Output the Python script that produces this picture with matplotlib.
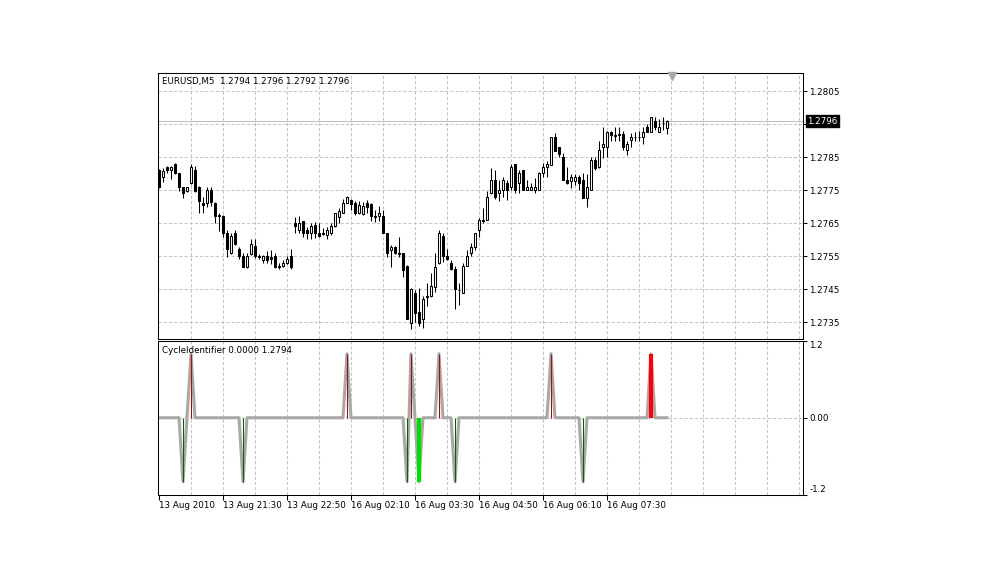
import numpy as np
import matplotlib
matplotlib.use('Agg')
from matplotlib import pyplot as plt
from matplotlib import transforms

plt.rcParams['font.family'] = 'DejaVu Sans'
plt.rcParams['font.size'] = 6.3

# EURUSD M5 candles
opens = [
    1.27812, 1.27791, 1.27821, 1.27812, 1.27830, 1.27803, 1.27761, 1.27748, 1.27773, 1.27812,
    1.27761, 1.27712, 1.27712, 1.27752, 1.27712, 1.27676, 1.27673, 1.27621, 1.27561, 1.27621,
    1.27573, 1.27552, 1.27518, 1.27558, 1.27582, 1.27550, 1.27539, 1.27552, 1.27548, 1.27552,
    1.27521, 1.27521, 1.27530, 1.27552, 1.27652, 1.27630, 1.27657, 1.27630, 1.27621, 1.27645,
    1.27621, 1.27621, 1.27615, 1.27621, 1.27642, 1.27670, 1.27682, 1.27712, 1.27721, 1.27712,
    1.27682, 1.27679, 1.27712, 1.27709, 1.27673, 1.27673, 1.27673, 1.27621, 1.27570, 1.27579,
    1.27561, 1.27561, 1.27521, 1.27348, 1.27440, 1.27382, 1.27361, 1.27430, 1.27430, 1.27457,
    1.27530, 1.27612, 1.27552, 1.27530, 1.27512, 1.27449, 1.27440, 1.27521, 1.27561, 1.27579,
    1.27630, 1.27661, 1.27661, 1.27742, 1.27782, 1.27742, 1.27752, 1.27773, 1.27761, 1.27830,
    1.27773, 1.27812, 1.27752, 1.27752, 1.27752, 1.27752, 1.27803, 1.27821, 1.27827, 1.27912,
    1.27882, 1.27851, 1.27782, 1.27779, 1.27779, 1.27791, 1.27782, 1.27727, 1.27752, 1.27842,
    1.27821, 1.27882, 1.27882, 1.27927, 1.27918, 1.27921, 1.27921, 1.27873, 1.27903, 1.27912,
    1.27912, 1.27912, 1.27943, 1.27927, 1.27961, 1.27927, 1.27955, 1.27940]
highs = [
    1.27815, 1.27818, 1.27824, 1.27824, 1.27833, 1.27803, 1.27761, 1.27761, 1.27830, 1.27824,
    1.27764, 1.27730, 1.27761, 1.27761, 1.27715, 1.27682, 1.27676, 1.27630, 1.27621, 1.27630,
    1.27579, 1.27561, 1.27561, 1.27603, 1.27603, 1.27558, 1.27555, 1.27567, 1.27570, 1.27561,
    1.27530, 1.27539, 1.27552, 1.27573, 1.27670, 1.27673, 1.27657, 1.27639, 1.27652, 1.27654,
    1.27652, 1.27636, 1.27639, 1.27652, 1.27682, 1.27697, 1.27724, 1.27733, 1.27724, 1.27718,
    1.27718, 1.27715, 1.27721, 1.27712, 1.27691, 1.27703, 1.27691, 1.27621, 1.27585, 1.27582,
    1.27609, 1.27561, 1.27524, 1.27455, 1.27449, 1.27455, 1.27430, 1.27470, 1.27500, 1.27561,
    1.27630, 1.27621, 1.27573, 1.27539, 1.27521, 1.27470, 1.27530, 1.27570, 1.27591, 1.27621,
    1.27667, 1.27697, 1.27748, 1.27818, 1.27812, 1.27782, 1.27791, 1.27782, 1.27830, 1.27830,
    1.27812, 1.27812, 1.27782, 1.27773, 1.27788, 1.27806, 1.27833, 1.27839, 1.27912, 1.27924,
    1.27882, 1.27863, 1.27821, 1.27800, 1.27800, 1.27797, 1.27803, 1.27800, 1.27851, 1.27851,
    1.27900, 1.27943, 1.27930, 1.27930, 1.27943, 1.27943, 1.27930, 1.27900, 1.27924, 1.27927,
    1.27930, 1.27943, 1.27952, 1.27973, 1.27973, 1.27967, 1.27973, 1.27963]
lows = [
    1.27757, 1.27776, 1.27803, 1.27785, 1.27800, 1.27748, 1.27727, 1.27745, 1.27770, 1.27745,
    1.27682, 1.27682, 1.27700, 1.27703, 1.27652, 1.27627, 1.27609, 1.27548, 1.27558, 1.27585,
    1.27542, 1.27518, 1.27515, 1.27555, 1.27545, 1.27542, 1.27530, 1.27530, 1.27527, 1.27515,
    1.27512, 1.27518, 1.27527, 1.27512, 1.27621, 1.27621, 1.27609, 1.27603, 1.27603, 1.27606,
    1.27609, 1.27615, 1.27603, 1.27615, 1.27639, 1.27652, 1.27682, 1.27712, 1.27691, 1.27676,
    1.27679, 1.27676, 1.27682, 1.27658, 1.27655, 1.27658, 1.27621, 1.27548, 1.27518, 1.27558,
    1.27548, 1.27488, 1.27361, 1.27330, 1.27352, 1.27339, 1.27333, 1.27400, 1.27427, 1.27442,
    1.27527, 1.27533, 1.27539, 1.27509, 1.27391, 1.27403, 1.27440, 1.27521, 1.27552, 1.27570,
    1.27609, 1.27652, 1.27661, 1.27739, 1.27724, 1.27718, 1.27730, 1.27721, 1.27752, 1.27742,
    1.27742, 1.27752, 1.27752, 1.27752, 1.27742, 1.27752, 1.27791, 1.27791, 1.27827, 1.27869,
    1.27851, 1.27782, 1.27770, 1.27757, 1.27767, 1.27752, 1.27727, 1.27700, 1.27752, 1.27812,
    1.27818, 1.27849, 1.27851, 1.27900, 1.27900, 1.27900, 1.27873, 1.27858, 1.27882, 1.27900,
    1.27900, 1.27891, 1.27927, 1.27927, 1.27933, 1.27927, 1.27933, 1.27920]
closes = [
    1.27761, 1.27809, 1.27812, 1.27821, 1.27803, 1.27761, 1.27742, 1.27761, 1.27821, 1.27748,
    1.27718, 1.27706, 1.27752, 1.27715, 1.27673, 1.27673, 1.27621, 1.27573, 1.27612, 1.27588,
    1.27552, 1.27518, 1.27552, 1.27588, 1.27552, 1.27548, 1.27552, 1.27539, 1.27542, 1.27518,
    1.27519, 1.27530, 1.27542, 1.27518, 1.27642, 1.27652, 1.27621, 1.27621, 1.27642, 1.27621,
    1.27612, 1.27619, 1.27630, 1.27642, 1.27682, 1.27688, 1.27712, 1.27730, 1.27709, 1.27682,
    1.27706, 1.27703, 1.27700, 1.27673, 1.27671, 1.27682, 1.27621, 1.27561, 1.27579, 1.27561,
    1.27559, 1.27509, 1.27361, 1.27452, 1.27379, 1.27348, 1.27421, 1.27428, 1.27461, 1.27518,
    1.27621, 1.27552, 1.27542, 1.27512, 1.27451, 1.27447, 1.27521, 1.27552, 1.27579, 1.27621,
    1.27661, 1.27659, 1.27730, 1.27782, 1.27730, 1.27752, 1.27782, 1.27752, 1.27821, 1.27752,
    1.27803, 1.27752, 1.27761, 1.27761, 1.27761, 1.27803, 1.27821, 1.27830, 1.27912, 1.27869,
    1.27860, 1.27782, 1.27773, 1.27791, 1.27791, 1.27773, 1.27727, 1.27761, 1.27842, 1.27818,
    1.27873, 1.27891, 1.27927, 1.27918, 1.27916, 1.27919, 1.27882, 1.27891, 1.27912, 1.27911,
    1.27913, 1.27927, 1.27927, 1.27973, 1.27943, 1.27943, 1.27953, 1.27960]

price_ticks = [1.2735, 1.2745, 1.2755, 1.2765, 1.2775, 1.2785, 1.2795, 1.2805]
price_labels = ['1.2735', '1.2745', '1.2755', '1.2765', '1.2775', '1.2785', '', '1.2805']
last_price = 1.2796

time_labels = ['13 Aug 2010', '13 Aug 21:30', '13 Aug 22:50', '16 Aug 02:10',
               '16 Aug 03:30', '16 Aug 04:50', '16 Aug 06:10', '16 Aug 07:30']

# CycleIdentifier turning points (bar index)
peak_bars = [8, 47, 63, 70, 98]
trough_bars = [6, 21, 62, 74, 106]
strong_peak_bars = [123]
strong_trough_bars = [65]
cycle_ticks = [-1.2, 0.0, 1.2]
cycle_labels = ['-1.2', '0.00', '1.2']

gridc = '#c4c4c4'
dash = (0, (3, 2))

o = np.array(opens)
h = np.array(highs)
l = np.array(lows)
c = np.array(closes)
bars = np.arange(len(o))
up = c >= o

fig = plt.figure(figsize=(9.98, 5.75), dpi=100)
ax = fig.add_axes([0.15832, 0.41043, 0.64579, 0.46209])
ax2 = fig.add_axes([0.15832, 0.14, 0.64579, 0.26696])

# ---- price window
for x in range(8, 161, 8):
    ax.axvline(x, color=gridc, lw=0.75, ls=dash, zorder=0)
for p in price_ticks:
    ax.axhline(p, color=gridc, lw=0.75, ls=dash, zorder=0)
ax.axhline(last_price, color='#c0c0c0', lw=0.75, zorder=1)

ax.vlines(bars, l, h, color='black', lw=0.75, zorder=2)
ax.bar(bars[up], (c - o)[up], bottom=o[up], width=0.5, facecolor='white',
       edgecolor='black', linewidth=0.75, zorder=3)
ax.bar(bars[~up], (o - c)[~up], bottom=c[~up], width=0.5, facecolor='black',
       edgecolor='black', linewidth=0.75, zorder=3)

ax.set_xlim(-0.25, 160.875)
ax.set_ylim(1.27300, 1.28105)
ax.set_xticks([])
ax.yaxis.tick_right()
ax.set_yticks(price_ticks)
ax.set_yticklabels(price_labels)
ax.tick_params(axis='y', length=3, width=0.75, pad=2, labelsize=6.3)

ax.text(0.006, 0.971, "EURUSD,M5  1.2794 1.2796 1.2792 1.2796",
        transform=ax.transAxes, va='center', ha='left', fontsize=6.3)
ax.annotate('1.2796', xy=(1, last_price), xycoords=('axes fraction', 'data'),
            xytext=(3.5, 0), textcoords='offset points', va='center', ha='left',
            color='white', fontsize=6.3,
            bbox=dict(boxstyle='square,pad=0.2', fc='black', ec='black'))
trans = transforms.blended_transform_factory(ax.transData, ax.transAxes)
ax.plot([128.25], [0.988], marker='v', ms=6, color='#a8a8a8', mec='#a8a8a8',
        transform=trans, clip_on=False, zorder=4)

# ---- indicator window
cycle = np.zeros(len(o))
cycle[peak_bars + strong_peak_bars] = 1.0
cycle[trough_bars + strong_trough_bars] = -1.0

for x in range(8, 161, 8):
    ax2.axvline(x, color=gridc, lw=0.75, ls=dash, zorder=0)
ax2.axhline(0, color=gridc, lw=0.75, ls=dash, zorder=0)

ax2.plot(bars, cycle, color='#a8a8a8', lw=2.2, solid_joinstyle='round', zorder=2)
ax2.vlines(peak_bars, 0, 1.0, color='#a01010', lw=0.8, zorder=3)
ax2.vlines(trough_bars, 0, -1.0, color='#006400', lw=0.8, zorder=3)
ax2.vlines(strong_peak_bars, 0, 1.0, color='#ff0000', lw=3, zorder=3)
ax2.vlines(strong_trough_bars, 0, -1.0, color='#00e000', lw=3, zorder=3)

ax2.set_xlim(-0.25, 160.875)
ax2.set_ylim(-1.2, 1.2)
ax2.yaxis.tick_right()
ax2.set_yticks(cycle_ticks)
ax2.set_yticklabels(cycle_labels)
ax2.tick_params(axis='y', length=3, width=0.75, pad=2, labelsize=6.3)
for lab in ax2.get_yticklabels():
    if lab.get_text() == '1.2':
        lab.set_va('top')
    elif lab.get_text() == '-1.2':
        lab.set_va('bottom')

ax2.set_xticks(range(0, 128, 16))
ax2.set_xticklabels(time_labels, ha='left')
ax2.tick_params(axis='x', length=3.5, width=0.75, pad=1.5, labelsize=6.3)

ax2.text(0.006, 0.94, "CycleIdentifier 0.0000 1.2794",
         transform=ax2.transAxes, va='center', ha='left', fontsize=6.3)

for a in (ax, ax2):
    for s in a.spines.values():
        s.set_linewidth(0.75)
        s.set_color('black')

fig.savefig('out.png', dpi=100, facecolor='white')
